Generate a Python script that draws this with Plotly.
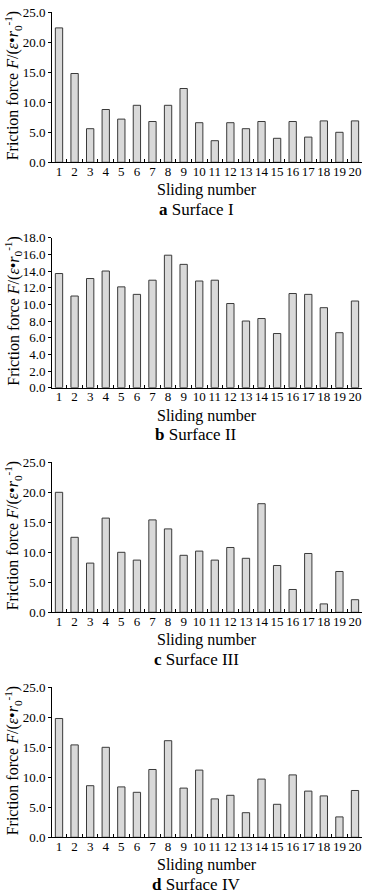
import plotly.graph_objects as go

W, H = 368, 893

sliding = list(range(1, 21))
tick_labels = [str(i) for i in sliding]

surface_1 = [22.4, 14.8, 5.6, 8.8, 7.2, 9.5, 6.8, 9.5, 12.3, 6.6,
             3.6, 6.6, 5.6, 6.8, 4.0, 6.8, 4.2, 6.9, 5.0, 6.9]
surface_2 = [13.7, 11.0, 13.1, 14.0, 12.1, 11.2, 12.9, 15.9, 14.8, 12.8,
             12.9, 10.1, 8.0, 8.3, 6.5, 11.3, 11.2, 9.6, 6.6, 10.4]
surface_3 = [20.0, 12.5, 8.2, 15.7, 10.0, 8.7, 15.4, 13.9, 9.5, 10.2,
             8.7, 10.8, 9.0, 18.1, 7.8, 3.8, 9.8, 1.4, 6.8, 2.1]
surface_4 = [19.8, 15.4, 8.6, 15.0, 8.4, 7.5, 11.3, 16.1, 8.2, 11.2,
             6.4, 7.0, 4.1, 9.7, 5.5, 10.4, 7.7, 6.9, 3.4, 7.8]

panels = [
    (surface_1, 25, 5, "<b>a</b> Surface I"),
    (surface_2, 18, 2, "<b>b</b> Surface II"),
    (surface_3, 25, 5, "<b>c</b> Surface III"),
    (surface_4, 25, 5, "<b>d</b> Surface IV"),
]

L, R = 52, 6
plot_w = W - L - R
panel_tops = [12.3, 237.7, 462.3, 687.3]
plot_h = 150

FONT = "Liberation Serif, Times New Roman, serif"
fig = go.Figure()
layout = dict(
    width=W, height=H,
    margin=dict(l=L, r=R, t=0, b=0, autoexpand=False),
    paper_bgcolor="white", plot_bgcolor="white",
    showlegend=False,
    font=dict(family=FONT, size=12, color="black"),
)
annotations = []

def py(px):
    return 1 - px / H

def px_x(px):
    return (px - L) / plot_w

for i, (vals, ymax, dt, cap) in enumerate(panels):
    n = i + 1
    xa = "x" if n == 1 else f"x{n}"
    ya = "y" if n == 1 else f"y{n}"
    fig.add_trace(go.Bar(
        x=sliding, y=vals, xaxis=xa, yaxis=ya, width=0.47,
        marker=dict(color="#d9d9d9", line=dict(color="#3a3a3a", width=1)),
    ))
    top = panel_tops[i]
    bot = top + plot_h
    layout[f"xaxis{'' if n == 1 else n}"] = dict(
        domain=[0, 1], anchor=ya, range=[0.55, 20.45], automargin=False,
        tickvals=sliding, ticktext=tick_labels, ticks="",
        ticklabelstandoff=-3,
        showline=True, linecolor="black", linewidth=1,
        showgrid=False, zeroline=False,
        tickfont=dict(family=FONT, size=13),
        minor=dict(tick0=0.5, dtick=1, ticks="inside", ticklen=3,
                   tickcolor="black", showgrid=False),
    )
    layout[f"yaxis{'' if n == 1 else n}"] = dict(
        domain=[py(bot), py(top)], anchor=xa, range=[0, ymax], automargin=False,
        dtick=dt, tickformat=".1f", ticks="outside", ticklen=3,
        tickcolor="black", showline=True, linecolor="black", linewidth=1,
        showgrid=False, zeroline=False,
        tickfont=dict(family=FONT, size=13),
    )
    annotations.append(dict(
        text="Sliding number", xref="paper", yref="paper",
        x=px_x(207), y=py(top + 178), xanchor="center", yanchor="middle",
        showarrow=False, font=dict(family=FONT, size=16),
    ))
    annotations.append(dict(
        text=cap, xref="paper", yref="paper",
        x=px_x(196), y=py(top + 197), xanchor="center", yanchor="middle",
        showarrow=False, font=dict(family=FONT, size=17),
    ))
    annotations.append(dict(
        text="Friction force <i>F</i>/(<i>ε</i>•<i>r</i><sub>0</sub><sup>-1</sup>)",
        xref="paper", yref="paper", textangle=-90,
        x=px_x(13), y=py(top + 73), xanchor="center", yanchor="middle",
        showarrow=False, font=dict(family=FONT, size=16),
    ))

layout["annotations"] = annotations
fig.update_layout(**layout)
fig.write_html(
    "out.html",
    config={"displayModeBar": False},
    post_script="document.body.style.margin='0';document.body.style.overflow='hidden';",
)
